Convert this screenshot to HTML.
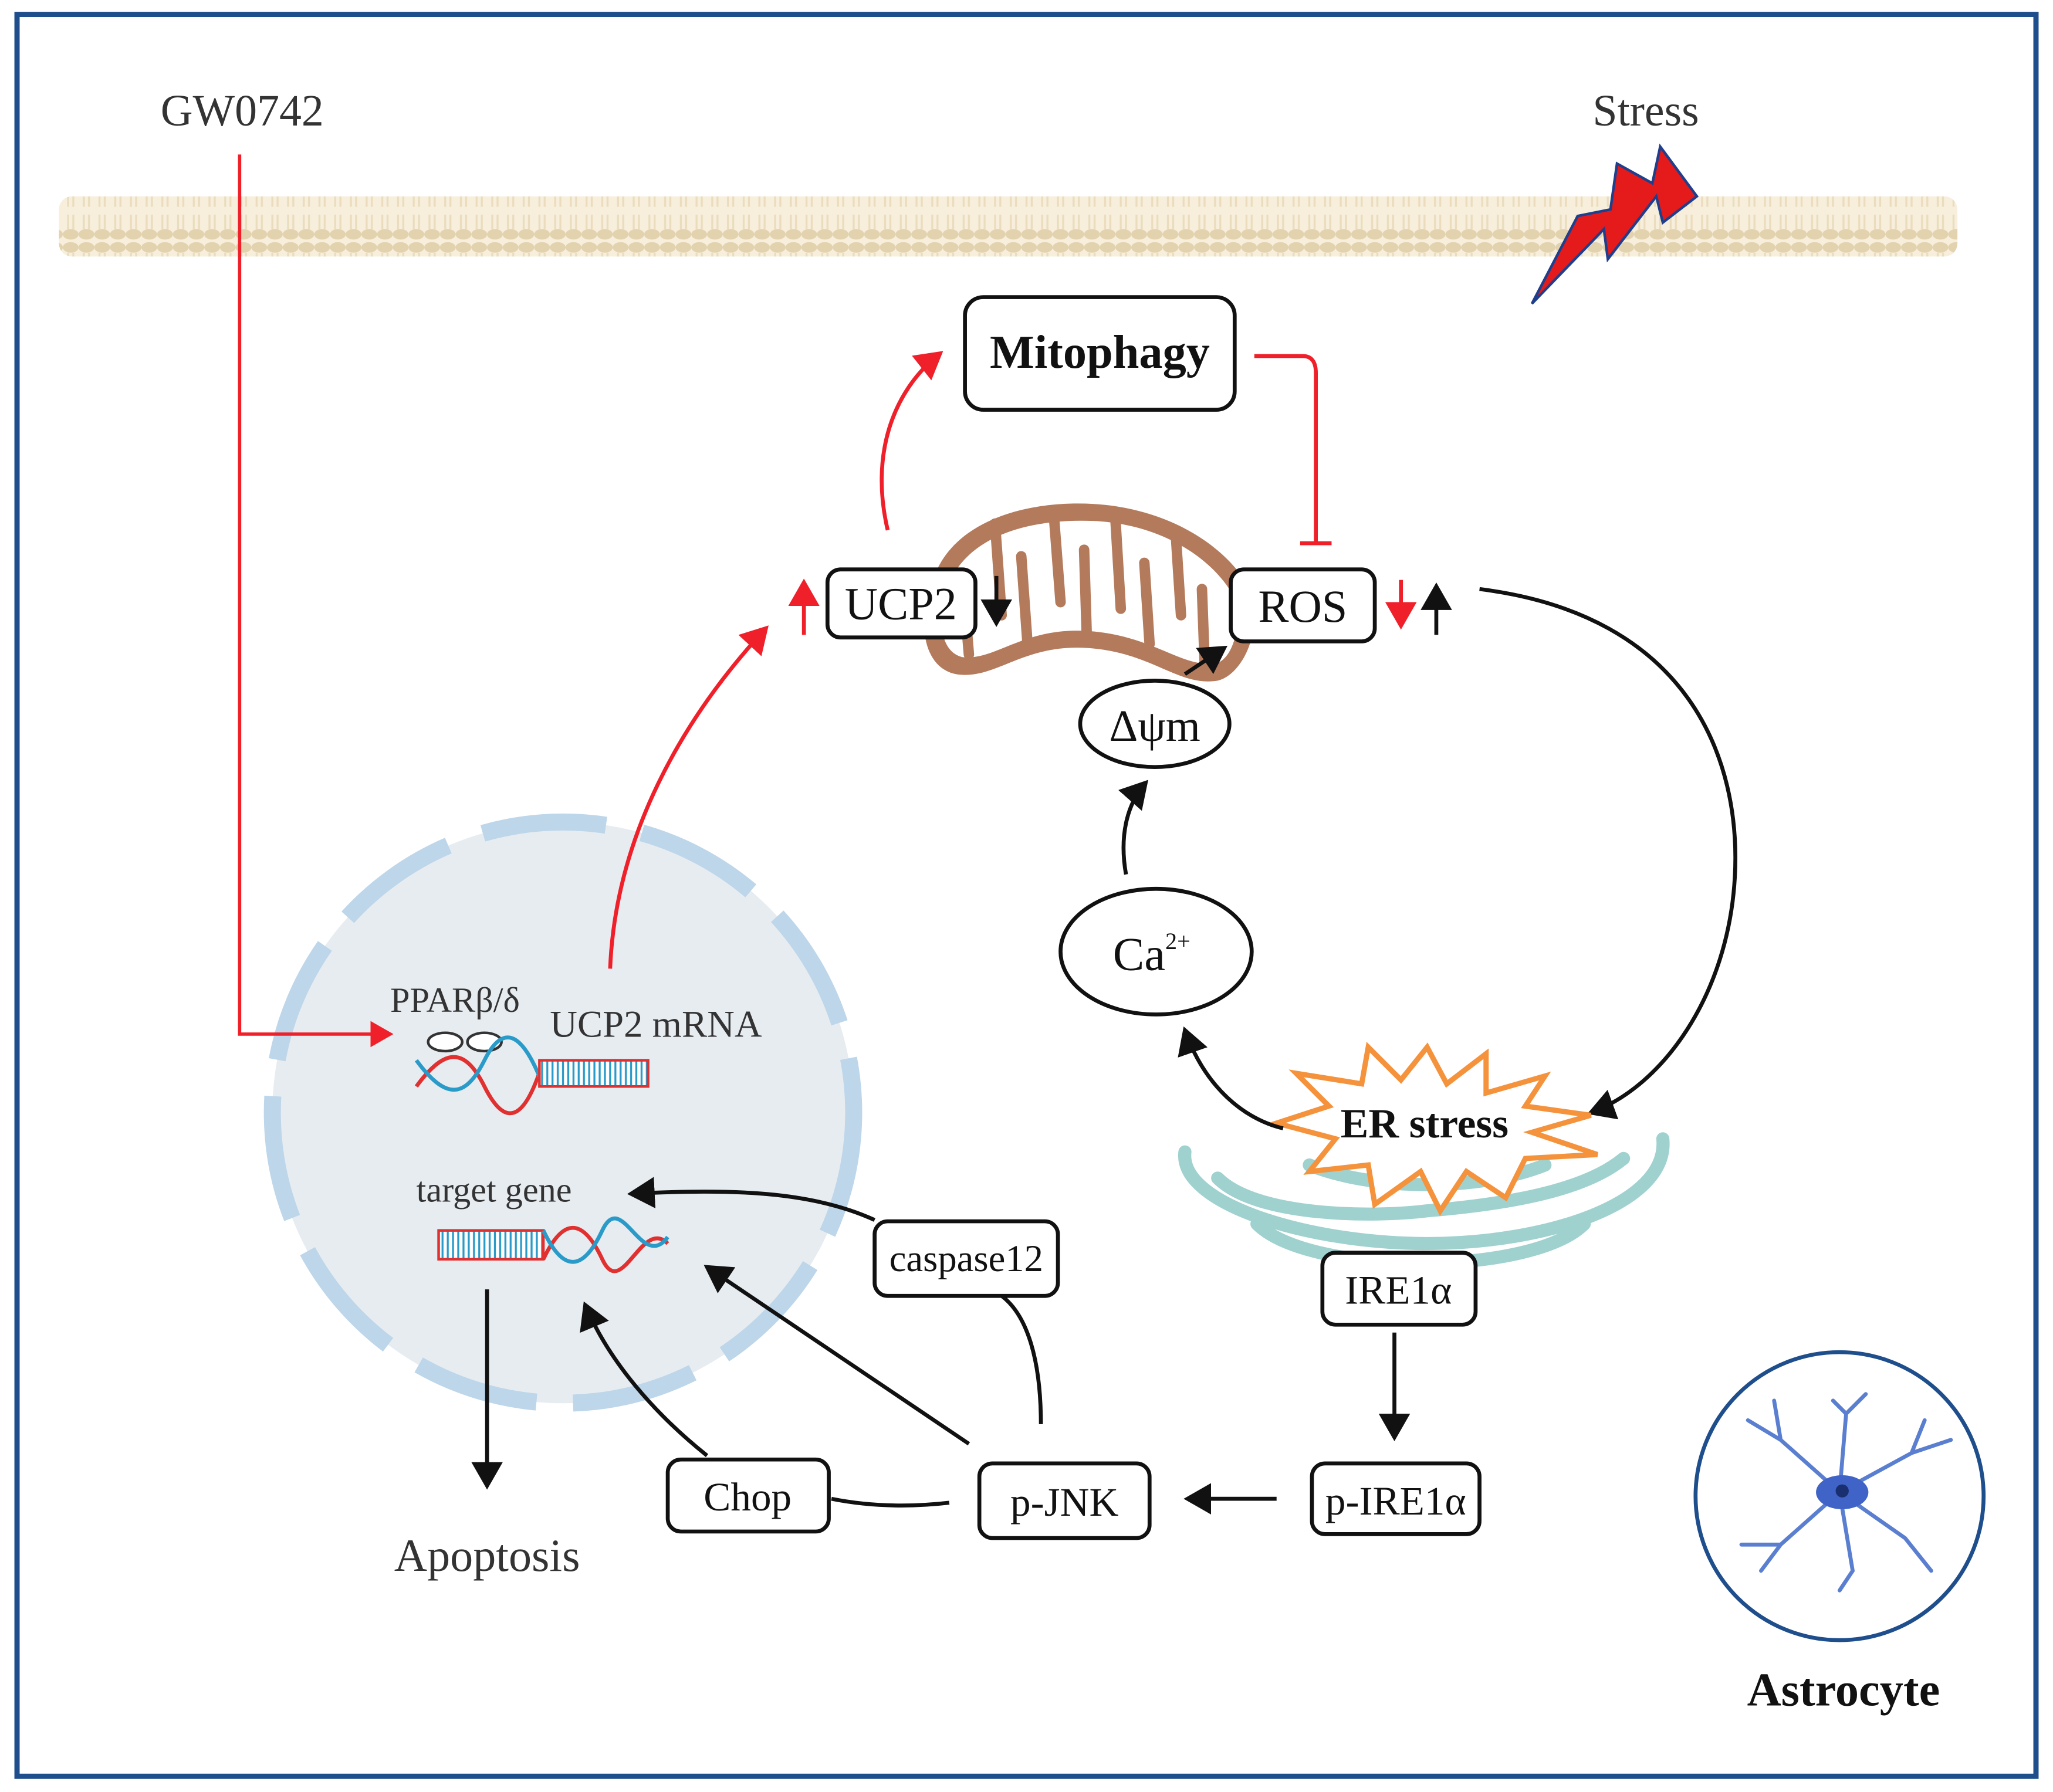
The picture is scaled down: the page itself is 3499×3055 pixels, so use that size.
<!DOCTYPE html>
<html><head><meta charset="utf-8"><style>
html,body{margin:0;padding:0;background:#fff}
svg{display:block}
text{font-family:"Liberation Serif",serif}
</style></head><body>
<svg width="3499" height="3055" viewBox="0 0 1568 1369" preserveAspectRatio="none" xmlns="http://www.w3.org/2000/svg">
<defs>
<marker id="ab" markerWidth="8" markerHeight="8" refX="6" refY="4" orient="auto" markerUnits="strokeWidth"><path d="M0,0 L7,4 L0,8 z" fill="#111"/></marker>
<marker id="ar" markerWidth="8" markerHeight="8" refX="6" refY="4" orient="auto" markerUnits="strokeWidth"><path d="M0,0 L7,4 L0,8 z" fill="#f0202a"/></marker>
<pattern id="lip" width="12" height="46" patternUnits="userSpaceOnUse">
<rect width="12" height="46" fill="#f7efdc"/>
<ellipse cx="6" cy="5" rx="6" ry="4" fill="#e2d2ae"/>
<ellipse cx="6" cy="41" rx="6" ry="4" fill="#e2d2ae"/>
<line x1="4" y1="9" x2="4" y2="20" stroke="#eadcbd" stroke-width="1.5"/>
<line x1="8" y1="9" x2="8" y2="20" stroke="#eadcbd" stroke-width="1.5"/>
<line x1="4" y1="26" x2="4" y2="37" stroke="#eadcbd" stroke-width="1.5"/>
<line x1="8" y1="26" x2="8" y2="37" stroke="#eadcbd" stroke-width="1.5"/>
</pattern>
<pattern id="lad" width="4" height="20" patternUnits="userSpaceOnUse"><rect width="4" height="20" fill="#fff"/><line x1="2" y1="0" x2="2" y2="20" stroke="#2a9bc8" stroke-width="1.5"/></pattern>
</defs>
<rect x="0" y="0" width="1568" height="1369" fill="#fff"/>
<rect x="13" y="11" width="1542" height="1346" fill="none" stroke="#1f4e8c" stroke-width="4"/>
<rect x="45" y="150" width="1450" height="46" fill="url(#lip)" rx="10"/>
<text x="185" y="96" font-size="34" text-anchor="middle" fill="#333">GW0742</text>
<text x="1257" y="96" font-size="34" text-anchor="middle" fill="#333">Stress</text>
<polygon points="1170,232 1225,175 1228,198 1265,150 1270,170 1296,150 1268,112 1262,140 1235,125 1230,160 1205,165" fill="#e51a1a" stroke="#1f3f8c" stroke-width="2"/>
<circle cx="430" cy="850" r="222" fill="#e7ecf1" stroke="#bdd6ea" stroke-width="13" stroke-dasharray="95 28"/>
<path d="M183,118 L183,790 L298,790" fill="none" stroke="#f0202a" stroke-width="2.5" marker-end="url(#ar)"/>
<text x="298" y="773" font-size="27" fill="#333">PPARβ/δ</text>
<text x="420" y="792" font-size="29" fill="#333">UCP2 mRNA</text>
<ellipse cx="340" cy="796" rx="13" ry="7" fill="#fff" stroke="#333" stroke-width="2"/>
<ellipse cx="370" cy="796" rx="13" ry="7" fill="#fff" stroke="#333" stroke-width="2"/>
<path d="M318,830 C340,800 355,800 370,830 S400,860 415,810" fill="none" stroke="#e03030" stroke-width="3"/>
<path d="M318,810 C340,840 355,840 370,810 S400,790 415,830" fill="none" stroke="#2a9bc8" stroke-width="3"/>
<rect x="412" y="810" width="83" height="20" fill="url(#lad)" stroke="#e03030" stroke-width="2"/>
<text x="318" y="918" font-size="27" fill="#333">target gene</text>
<rect x="335" y="940" width="80" height="22" fill="url(#lad)" stroke="#e03030" stroke-width="2"/>
<path d="M415,962 C430,930 445,930 460,962 S490,930 510,950" fill="none" stroke="#e03030" stroke-width="3"/>
<path d="M415,940 C430,972 445,972 460,940 S490,972 510,945" fill="none" stroke="#2a9bc8" stroke-width="3"/>
<path d="M466,740 C470,640 520,550 585,480" fill="none" stroke="#f0202a" stroke-width="3" marker-end="url(#ar)"/>
<path d="M614,485 L614,445" fill="none" stroke="#f0202a" stroke-width="3" marker-end="url(#ar)"/>
<!-- mitochondria -->
<path d="M712,445 C725,400 780,382 835,385 C890,388 935,415 955,450 C965,480 950,515 930,520 C900,525 880,498 830,495 C780,492 760,520 730,515 C705,510 700,475 712,445 Z" fill="#b47a5c"/>
<path d="M724,448 C738,410 785,396 835,398 C885,400 925,425 942,455 C950,480 940,505 928,507 C902,510 880,485 830,482 C782,479 760,505 735,502 C718,498 715,472 724,448 Z" fill="#fff"/>
<g stroke="#b47a5c" stroke-width="8" stroke-linecap="round">
<line x1="740" y1="500" x2="735" y2="440"/>
<line x1="760" y1="400" x2="765" y2="470"/>
<line x1="785" y1="495" x2="780" y2="425"/>
<line x1="805" y1="395" x2="810" y2="460"/>
<line x1="830" y1="485" x2="828" y2="420"/>
<line x1="852" y1="398" x2="856" y2="465"/>
<line x1="878" y1="492" x2="874" y2="430"/>
<line x1="898" y1="408" x2="902" y2="470"/>
<line x1="920" y1="505" x2="918" y2="450"/>
</g>
<rect x="632" y="435" width="113" height="52" rx="10" fill="#fff" stroke="#111" stroke-width="3"/>
<text x="688" y="473" font-size="35" text-anchor="middle" fill="#111">UCP2</text>
<path d="M761,440 L761,476" stroke="#111" stroke-width="3" marker-end="url(#ab)"/>
<rect x="940" y="435" width="110" height="55" rx="10" fill="#fff" stroke="#111" stroke-width="3"/>
<text x="995" y="475" font-size="35" text-anchor="middle" fill="#111">ROS</text>
<path d="M1070,443 L1070,478" stroke="#f0202a" stroke-width="3" marker-end="url(#ar)"/>
<path d="M1097,485 L1097,448" stroke="#111" stroke-width="3" marker-end="url(#ab)"/>
<rect x="737" y="227" width="206" height="86" rx="14" fill="#fff" stroke="#111" stroke-width="3"/>
<text x="840" y="281" font-size="36" font-weight="bold" text-anchor="middle" fill="#111">Mitophagy</text>
<path d="M678,405 C665,350 680,300 718,270" fill="none" stroke="#f0202a" stroke-width="3" marker-end="url(#ar)"/>
<path d="M958,272 L995,272 Q1005,272 1005,285 L1005,415 M993,415 L1017,415" fill="none" stroke="#f0202a" stroke-width="3"/>
<ellipse cx="882" cy="553" rx="57" ry="33" fill="#fff" stroke="#111" stroke-width="3"/>
<text x="882" y="566" font-size="34" text-anchor="middle" fill="#111">Δψm</text>
<path d="M905,515 L935,495" stroke="#111" stroke-width="3" marker-end="url(#ab)"/>
<ellipse cx="883" cy="727" rx="73" ry="48" fill="#fff" stroke="#111" stroke-width="3"/>
<text x="850" y="741" font-size="36" fill="#111">Ca<tspan font-size="18" dy="-16">2+</tspan></text>
<path d="M860,668 C855,640 860,615 875,598" fill="none" stroke="#111" stroke-width="3" marker-end="url(#ab)"/>
<path d="M1130,450 C1290,470 1330,580 1325,670 C1320,760 1270,830 1215,850" fill="none" stroke="#111" stroke-width="3" marker-end="url(#ab)"/>
<g fill="none" stroke="#9fd1cf" stroke-width="10" stroke-linecap="round">
<path d="M905,880 C900,920 1000,950 1090,950 C1180,950 1275,920 1270,870"/>
<path d="M930,900 C960,930 1050,930 1090,925 C1150,920 1210,910 1240,885"/>
<path d="M960,935 C1000,975 1170,975 1210,935"/>
<path d="M1000,890 C1050,910 1130,910 1180,890"/>
</g>
<polygon points="1090,800 1105,828 1135,805 1135,835 1180,822 1165,845 1215,852 1170,865 1220,882 1165,885 1150,915 1120,895 1100,925 1085,895 1050,920 1045,890 1000,895 1020,870 975,858 1015,845 990,820 1040,828 1045,800 1070,825" fill="#fff" stroke="#f5923c" stroke-width="4"/>
<text x="1088" y="869" font-size="32" font-weight="bold" text-anchor="middle" fill="#111">ER stress</text>
<path d="M980,862 C950,855 920,830 905,787" fill="none" stroke="#111" stroke-width="3" marker-end="url(#ab)"/>
<rect x="1010" y="957" width="117" height="55" rx="10" fill="#fff" stroke="#111" stroke-width="3"/>
<text x="1068" y="996" font-size="31" text-anchor="middle" fill="#111">IRE1α</text>
<path d="M1065,1018 L1065,1098" stroke="#111" stroke-width="3" marker-end="url(#ab)"/>
<rect x="1002" y="1118" width="128" height="54" rx="10" fill="#fff" stroke="#111" stroke-width="3"/>
<text x="1066" y="1157" font-size="31" text-anchor="middle" fill="#111">p-IRE1α</text>
<path d="M975,1145 L907,1145" stroke="#111" stroke-width="3" marker-end="url(#ab)"/>
<rect x="748" y="1118" width="130" height="57" rx="10" fill="#fff" stroke="#111" stroke-width="3"/>
<text x="813" y="1158" font-size="31" text-anchor="middle" fill="#111">p-JNK</text>
<rect x="510" y="1115" width="123" height="55" rx="10" fill="#fff" stroke="#111" stroke-width="3"/>
<text x="571" y="1154" font-size="31" text-anchor="middle" fill="#111">Chop</text>
<path d="M725,1148 C690,1152 660,1150 635,1145" fill="none" stroke="#111" stroke-width="3"/>
<rect x="668" y="933" width="140" height="57" rx="10" fill="#fff" stroke="#111" stroke-width="3"/>
<text x="738" y="971" font-size="29" text-anchor="middle" fill="#111">caspase12</text>
<path d="M795,1088 C795,1040 785,1005 765,990" fill="none" stroke="#111" stroke-width="3"/>
<path d="M668,932 C620,910 560,908 482,912" fill="none" stroke="#111" stroke-width="3" marker-end="url(#ab)"/>
<path d="M740,1103 L540,968" stroke="#111" stroke-width="3" marker-end="url(#ab)"/>
<path d="M540,1112 C500,1080 465,1040 447,997" fill="none" stroke="#111" stroke-width="3" marker-end="url(#ab)"/>
<path d="M372,985 L372,1135" stroke="#111" stroke-width="3" marker-end="url(#ab)"/>
<text x="372" y="1200" font-size="35" text-anchor="middle" fill="#333">Apoptosis</text>
<circle cx="1405" cy="1143" r="110" fill="#fff" stroke="#1f4e8c" stroke-width="3"/>
<g stroke="#5a7fd0" stroke-width="3" fill="none" stroke-linecap="round">
<path d="M1405,1140 L1360,1100 L1335,1085 M1360,1100 L1355,1070"/>
<path d="M1405,1140 L1410,1080 L1400,1070 M1410,1080 L1425,1065"/>
<path d="M1405,1140 L1460,1110 L1490,1100 M1460,1110 L1470,1085"/>
<path d="M1405,1140 L1455,1175 L1475,1200"/>
<path d="M1405,1140 L1415,1200 L1405,1215"/>
<path d="M1405,1140 L1360,1180 L1345,1200 M1360,1180 L1330,1180"/>
</g>
<ellipse cx="1407" cy="1140" rx="20" ry="13" fill="#3f63c7"/>
<circle cx="1407" cy="1139" r="5" fill="#1a2f70"/>
<text x="1408" y="1303" font-size="36" font-weight="bold" text-anchor="middle" fill="#111">Astrocyte</text>
</svg>
</body></html>
